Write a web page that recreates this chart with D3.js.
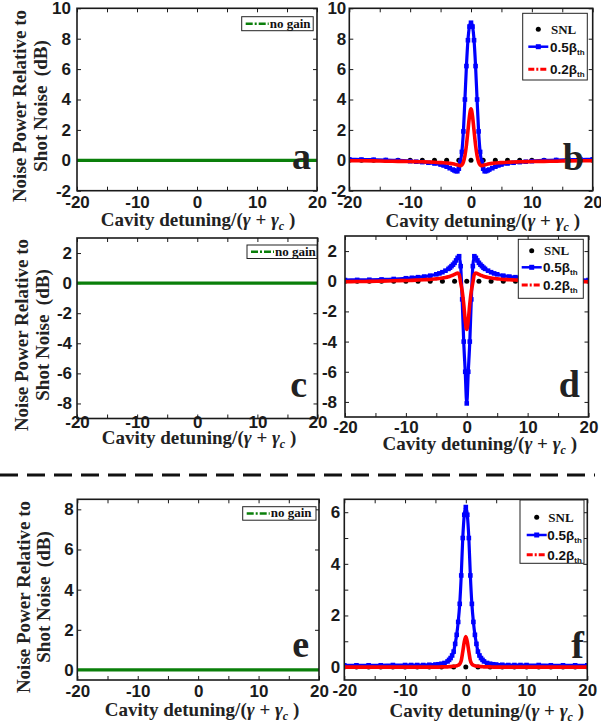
<!DOCTYPE html>
<html>
<head>
<meta charset="utf-8">
<script src="https://cdn.jsdelivr.net/npm/d3@7"></script>
<style>
  html, body { margin: 0; padding: 0; background: #fff; }
  svg { display: block; }
</style>
</head>
<body>
<svg id="fig" width="601" height="727"></svg>
<script>
// ---- data -------------------------------------------------------------
// Cavity detuning grid, in units of (gamma + gamma_c)
const detuning = [-20, -18, -16, -14, -12, -10, -9, -8, -7, -6, -5, -4.5, -4, -3.5, -3,
  -2.75, -2.5, -2.25, -2, -1.75, -1.5, -1.25, -1, -0.75, -0.5, -0.25, 0,
  0.25, 0.5, 0.75, 1, 1.25, 1.5, 1.75, 2, 2.25, 2.5, 2.75,
  3, 3.5, 4, 4.5, 5, 6, 7, 8, 9, 10, 12, 14, 16, 18, 20];

// Shot-noise-limit reference points
const snlDetuning = [-20, -18, -16, -14, -12, -10, -8, -6, -4, -2, 0, 2, 4, 6, 8, 10, 12, 14, 16, 18, 20];
const snlLevel    = [0, 0, 0, 0, 0, 0, 0, 0, 0, 0, 0, 0, 0, 0, 0, 0, 0, 0, 0, 0, 0];

// No-gain case (panels a, c, e)
const noGainDetuning = [-20, 20];
const noGainLevel    = [0, 0];

// Panel b: noise power (dB) for pump 0.5 beta_th and 0.2 beta_th
const bHalf = [0.06, 0.05, 0.04, 0.02, -0.01, -0.06, -0.09, -0.12, -0.16, -0.21, -0.28, -0.34, -0.42, -0.52, -0.61,
  -0.66, -0.71, -0.72, -0.55, -0.1, 0.55, 1.9, 4.0, 6.2, 7.9, 8.8, 9.05,
  8.8, 7.9, 6.2, 4.0, 1.9, 0.55, -0.1, -0.55, -0.72, -0.71, -0.66,
  -0.61, -0.52, -0.42, -0.34, -0.28, -0.21, -0.16, -0.12, -0.09, -0.06, -0.01, 0.02, 0.04, 0.05, 0.06];
const bFifth = [-0.03, -0.03, -0.04, -0.06, -0.07, -0.08, -0.09, -0.1, -0.11, -0.13, -0.15, -0.16, -0.18, -0.2, -0.23,
  -0.25, -0.27, -0.3, -0.33, -0.35, -0.3, -0.12, 0.3, 1.0, 1.95, 2.9, 3.38,
  2.9, 1.95, 1.0, 0.3, -0.12, -0.3, -0.35, -0.33, -0.3, -0.27, -0.25,
  -0.23, -0.2, -0.18, -0.16, -0.15, -0.13, -0.11, -0.1, -0.09, -0.08, -0.07, -0.06, -0.04, -0.03, -0.03];

// Panel d
const dHalf = [0.08, 0.09, 0.1, 0.12, 0.15, 0.2, 0.23, 0.27, 0.31, 0.37, 0.46, 0.52, 0.6, 0.7, 0.82,
  0.9, 1.0, 1.1, 1.22, 1.38, 1.55, 1.66, 1.0, -1.2, -4.0, -6.0, -8.1,
  -6.0, -4.0, -1.2, 1.0, 1.66, 1.55, 1.38, 1.22, 1.1, 1.0, 0.9,
  0.82, 0.7, 0.6, 0.52, 0.46, 0.37, 0.31, 0.27, 0.23, 0.2, 0.15, 0.12, 0.1, 0.09, 0.08];
const dFifth = [-0.03, -0.02, -0.01, 0.01, 0.03, 0.05, 0.06, 0.08, 0.1, 0.12, 0.16, 0.18, 0.21, 0.25, 0.3,
  0.33, 0.37, 0.41, 0.46, 0.51, 0.55, 0.45, -0.1, -0.65, -1.5, -2.6, -3.2,
  -2.6, -1.5, -0.65, -0.1, 0.45, 0.55, 0.51, 0.46, 0.41, 0.37, 0.33,
  0.3, 0.25, 0.21, 0.18, 0.16, 0.12, 0.1, 0.08, 0.06, 0.05, 0.03, 0.01, -0.01, -0.02, -0.03];

// Panel f
const fHalf = [0.07, 0.07, 0.07, 0.07, 0.08, 0.08, 0.08, 0.08, 0.08, 0.09, 0.1, 0.11, 0.13, 0.16, 0.22,
  0.28, 0.35, 0.45, 0.6, 0.9, 1.25, 1.75, 2.45, 3.55, 5.0, 5.9, 6.2,
  5.9, 5.0, 3.55, 2.45, 1.75, 1.25, 0.9, 0.6, 0.45, 0.35, 0.28,
  0.22, 0.16, 0.13, 0.11, 0.1, 0.09, 0.08, 0.08, 0.08, 0.08, 0.08, 0.07, 0.07, 0.07, 0.07];
const fFifth = [0, 0, 0, 0, 0, 0, 0, 0, 0, 0, 0, 0, 0.01, 0.01, 0.01,
  0.02, 0.02, 0.03, 0.03, 0.04, 0.05, 0.07, 0.12, 0.25, 0.6, 0.98, 1.18,
  0.98, 0.6, 0.25, 0.12, 0.07, 0.05, 0.04, 0.03, 0.03, 0.02, 0.02,
  0.01, 0.01, 0.01, 0, 0, 0, 0, 0, 0, 0, 0, 0, 0, 0, 0];

// Axis ticks
const xTicks       = [-20, -15, -10, -5, 0, 5, 10, 15, 20];
const xTickLabels  = [-20, -10, 0, 10, 20];
const yTicksTop    = [-2, 0, 2, 4, 6, 8, 10];
const yTicksMid    = [-8, -6, -4, -2, 0, 2];
const yTicksLowL   = [0, 2, 4, 6, 8];
const yTicksLowR   = [0, 1, 2, 3, 4, 5, 6];
const yTickLabelsLowR = [0, 2, 4, 6];

// ---- layout -----------------------------------------------------------
const panels = [
  { id: "a", left: 77, right: 317, top: 8.3, bottom: 190.7, y: [-2, 10], yt: yTicksTop, ytl: yTicksTop,
    xPad: 5, yPad: 6, xl: [198, 226], yl: { cy: 106, b1: 26, b2: 47 },
    letter: [311, 169], legend: { kind: "nogain", x: 241.7, y: 16.7, w: 71.5, h: 14 } },
  { id: "b", left: 349.3, right: 592.7, top: 8.3, bottom: 190.7, y: [-2, 10], yt: yTicksTop, ytl: yTicksTop,
    xPad: 5, yPad: 3, xl: [482.7, 227], series: [bHalf, bFifth],
    letter: [584, 170], legend: { kind: "gain", x: 522.7, y: 13.3, w: 64.6, h: 66.7, rows: [29.3, 46.7, 69.3], lx: 528.3, tx: 550 } },
  { id: "c", left: 77, right: 317.5, top: 238, bottom: 418.5, y: [-9, 3], yt: yTicksMid, ytl: yTicksMid,
    xPad: -3, yPad: 5, xl: [199, 443.5], yl: { cy: 335, b1: 28, b2: 49 },
    letter: [307, 397], legend: { kind: "nogain", x: 247, y: 245, w: 70, h: 13.5 } },
  { id: "d", left: 345, right: 588.5, top: 236, bottom: 417, y: [-9, 3], yt: yTicksMid, ytl: yTicksMid,
    xPad: 4, yPad: 8, xl: [479.7, 450], series: [dHalf, dFifth],
    letter: [580, 397], legend: { kind: "gain", x: 518.3, y: 239.3, w: 65, h: 59, rows: [250.7, 267.3, 285], lx: 521.7, tx: 543 } },
  { id: "e", left: 77.3, right: 319, top: 499.3, bottom: 680, y: [-0.5, 8.5], yt: yTicksLowL, ytl: yTicksLowL,
    xPad: 5, yPad: 3.5, xl: [202, 716], yl: { cy: 597, b1: 30, b2: 50 },
    letter: [309, 657], legend: { kind: "nogain", x: 242.7, y: 506.7, w: 73.3, h: 13.5 } },
  { id: "f", left: 344.3, right: 587.3, top: 499.3, bottom: 680, y: [-0.5, 6.5], yt: yTicksLowR, ytl: yTickLabelsLowR,
    xPad: 4, yPad: 4, xl: [486.7, 717], series: [fHalf, fFifth],
    letter: [584, 658], legend: { kind: "gain", x: 520, y: 500, w: 64, h: 63.3, rows: [517.3, 535, 554.7], lx: 526.7, tx: 547.3 } }
];

const BLUE = "#0000ff", RED = "#ff0000", GREEN = "#0a7f0a", INK = "#1a1a1a";
const SANS = "'Liberation Sans', Arial, sans-serif";
const SERIF = "'Liberation Serif', 'Times New Roman', serif";

const svg = d3.select("#fig");
svg.append("rect").attr("width", 601).attr("height", 727).attr("fill", "#fff");

// dashed separator between the upper and lower figure groups
svg.append("line")
  .attr("x1", 0).attr("x2", 595).attr("y1", 475).attr("y2", 475)
  .attr("stroke", "#111").attr("stroke-width", 3).attr("stroke-dasharray", "18,9");

function styleAxis(sel) {
  sel.select(".domain").remove();
  sel.selectAll(".tick line").attr("stroke", INK).attr("stroke-width", 1);
  sel.selectAll("text")
    .attr("fill", INK)
    .attr("font-family", SANS)
    .attr("font-size", 17)
    .attr("font-weight", "bold");
}

function xLabel(g, cx, by) {
  const t = g.append("text")
    .attr("x", cx).attr("y", by)
    .attr("text-anchor", "middle")
    .attr("font-family", SERIF).attr("font-weight", "bold").attr("font-size", 19)
    .attr("fill", "#222");
  t.append("tspan").text("Cavity detuning/(");
  t.append("tspan").attr("font-style", "italic").text("\u03B3");
  t.append("tspan").text(" + ");
  t.append("tspan").attr("font-style", "italic").text("\u03B3");
  t.append("tspan").attr("font-style", "italic").attr("font-size", 12).attr("dy", 4).text("c");
  t.append("tspan").attr("dy", -4).text(" )");
}

function yLabel(g, yl) {
  const lines = [["Noise Power Relative to", yl.b1], ["Shot Noise  (dB)", yl.b2]];
  lines.forEach(([txt, bx]) => {
    g.append("text")
      .attr("transform", `translate(${bx},${yl.cy}) rotate(-90)`)
      .attr("text-anchor", "middle")
      .attr("font-family", SERIF).attr("font-weight", "bold").attr("font-size", 19)
      .attr("fill", "#222")
      .style("white-space", "pre")
      .text(txt);
  });
}

function betaLabel(g, x, y, coef) {
  const t = g.append("text").attr("x", x).attr("y", y)
    .attr("font-family", SANS).attr("font-weight", "bold").attr("font-size", 13.5).attr("fill", "#111");
  t.append("tspan").text(coef + "\u03B2");
  t.append("tspan").attr("font-size", 8).attr("dy", 3).text("th");
}

function legend(g, L) {
  g.append("rect").attr("x", L.x).attr("y", L.y).attr("width", L.w).attr("height", L.h)
    .attr("fill", "#fff").attr("stroke", "#222").attr("stroke-width", 1);
  if (L.kind === "nogain") {
    const cy = L.y + L.h / 2;
    g.append("line").attr("x1", L.x + 4).attr("x2", L.x + 27).attr("y1", cy).attr("y2", cy)
      .attr("stroke", GREEN).attr("stroke-width", 2.5).attr("stroke-dasharray", "7,2,2,2");
    g.append("text").attr("x", L.x + 28).attr("y", cy + 4)
      .attr("font-family", SERIF).attr("font-weight", "bold").attr("font-size", 13).attr("fill", "#111")
      .text("no gain");
    return;
  }
  const [r1, r2, r3] = L.rows;
  const mid = L.lx + 10;
  g.append("circle").attr("cx", mid).attr("cy", r1).attr("r", 2.5).attr("fill", "#000");
  g.append("text").attr("x", L.tx + 1).attr("y", r1 + 4.5)
    .attr("font-family", SERIF).attr("font-weight", "bold").attr("font-size", 13).attr("fill", "#111")
    .text("SNL");
  g.append("line").attr("x1", L.lx).attr("x2", L.lx + 20).attr("y1", r2).attr("y2", r2)
    .attr("stroke", BLUE).attr("stroke-width", 2.5);
  g.append("rect").attr("x", mid - 2.5).attr("y", r2 - 2.5).attr("width", 5).attr("height", 5).attr("fill", BLUE);
  betaLabel(g, L.tx, r2 + 5, "0.5");
  g.append("line").attr("x1", L.lx).attr("x2", L.lx + 20).attr("y1", r3).attr("y2", r3)
    .attr("stroke", RED).attr("stroke-width", 3).attr("stroke-dasharray", "6,2,2,2");
  betaLabel(g, L.tx, r3 + 5, "0.2");
}

panels.forEach(p => {
  const x = d3.scaleLinear().domain([-20, 20]).range([p.left, p.right]);
  const y = d3.scaleLinear().domain(p.y).range([p.bottom, p.top]);
  const g = svg.append("g").attr("class", "panel-" + p.id);

  const clipId = "clip-" + p.id;
  g.append("clipPath").attr("id", clipId)
    .append("rect").attr("x", p.left).attr("y", p.top)
    .attr("width", p.right - p.left).attr("height", p.bottom - p.top);

  // axes: inward ticks on all four sides
  const fmtX = d => xTickLabels.includes(d) ? String(d) : "";
  const fmtY = d => p.ytl.includes(d) ? String(d) : "";
  g.append("g").attr("transform", `translate(0,${p.bottom})`)
    .call(d3.axisBottom(x).tickValues(xTicks).tickSizeInner(-4).tickSizeOuter(0).tickPadding(p.xPad).tickFormat(fmtX))
    .call(styleAxis);
  g.append("g").attr("transform", `translate(0,${p.top})`)
    .call(d3.axisTop(x).tickValues(xTicks).tickSizeInner(-4).tickSizeOuter(0).tickFormat(() => ""))
    .call(styleAxis);
  g.append("g").attr("transform", `translate(${p.left},0)`)
    .call(d3.axisLeft(y).tickValues(p.yt).tickSizeInner(-4).tickSizeOuter(0).tickPadding(p.yPad).tickFormat(fmtY))
    .call(styleAxis);
  g.append("g").attr("transform", `translate(${p.right},0)`)
    .call(d3.axisRight(y).tickValues(p.yt).tickSizeInner(-4).tickSizeOuter(0).tickFormat(() => ""))
    .call(styleAxis);

  const plot = g.append("g").attr("clip-path", `url(#${clipId})`);
  const line = d3.line().x(d => x(d[0])).y(d => y(d[1])).curve(d3.curveMonotoneX);

  if (p.series) {
    const snl = snlDetuning.map((d, i) => [d, snlLevel[i]]);
    plot.selectAll("circle.snl").data(snl).join("circle")
      .attr("class", "snl").attr("cx", d => x(d[0])).attr("cy", d => y(d[1])).attr("r", 2.5).attr("fill", "#000");

    const half = detuning.map((d, i) => [d, p.series[0][i]]);
    const fifth = detuning.map((d, i) => [d, p.series[1][i]]);
    plot.append("path").datum(half).attr("d", line)
      .attr("fill", "none").attr("stroke", BLUE).attr("stroke-width", 3.2).attr("stroke-linejoin", "round");
    plot.selectAll("rect.mk").data(half).join("rect")
      .attr("class", "mk").attr("x", d => x(d[0]) - 2.3).attr("y", d => y(d[1]) - 2.3)
      .attr("width", 4.6).attr("height", 4.6).attr("fill", BLUE);
    plot.append("path").datum(fifth).attr("d", line)
      .attr("fill", "none").attr("stroke", RED).attr("stroke-width", 3.6).attr("stroke-linejoin", "round");
  } else {
    const ng = noGainDetuning.map((d, i) => [d, noGainLevel[i]]);
    plot.append("path").datum(ng).attr("d", line)
      .attr("fill", "none").attr("stroke", GREEN).attr("stroke-width", 3.2);
  }

  // frame
  g.append("rect").attr("x", p.left).attr("y", p.top)
    .attr("width", p.right - p.left).attr("height", p.bottom - p.top)
    .attr("fill", "none").attr("stroke", INK).attr("stroke-width", 1.6);

  legend(g, p.legend);

  g.append("text").attr("x", p.letter[0]).attr("y", p.letter[1])
    .attr("text-anchor", "end")
    .attr("font-family", SERIF).attr("font-weight", "bold").attr("font-size", 38).attr("fill", "#222")
    .text(p.id);

  xLabel(g, p.xl[0], p.xl[1]);
  if (p.yl) yLabel(g, p.yl);
});
</script>
</body>
</html>
